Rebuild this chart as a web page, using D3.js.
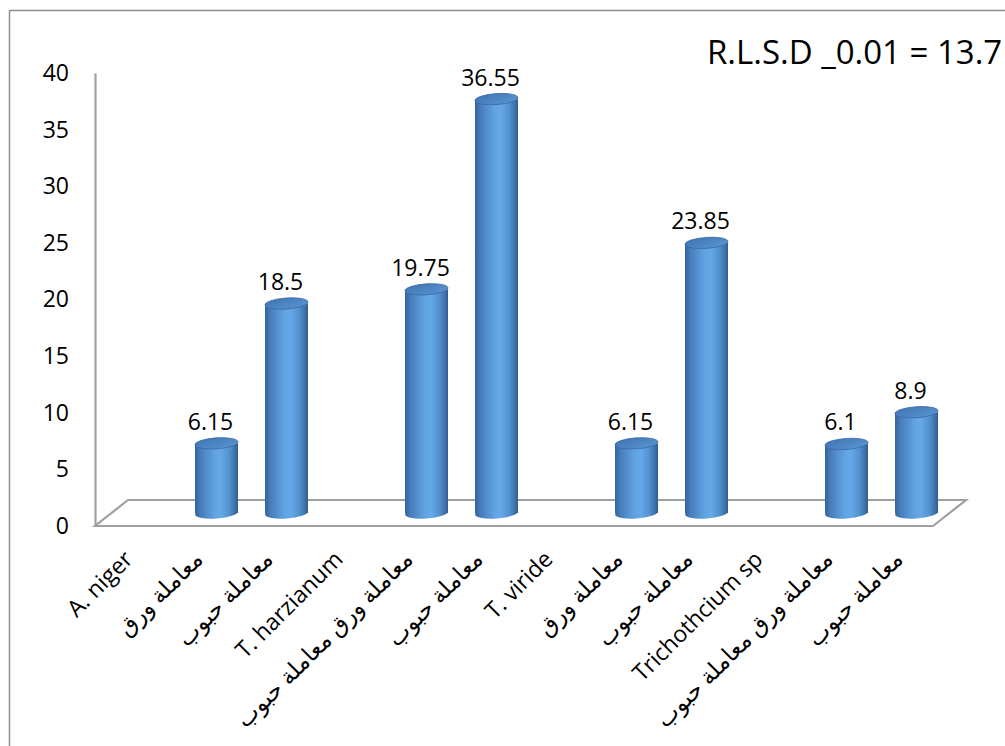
<!DOCTYPE html>
<html>
<head>
<meta charset="utf-8">
<script src="https://cdn.jsdelivr.net/npm/d3@7"></script>
<style>
  html, body { margin: 0; padding: 0; background: #ffffff; }
  svg { display: block; }
  text { font-family: "Open Sans", "DejaVu Sans", sans-serif; fill: #000; }
</style>
</head>
<body>
<svg id="chart" width="1005" height="746"></svg>
<script>
// Category labels along the x axis
const categories = [
  "A. niger",
  "معاملة ورق",
  "معاملة حبوب",
  "T. harzianum",
  "معاملة  ورق معاملة حبوب",
  "معاملة حبوب",
  "T. viride",
  "معاملة ورق",
  "معاملة حبوب",
  "Trichothcium sp",
  "معاملة  ورق معاملة حبوب",
  "معاملة حبوب"
];
// Column values (null = no column for the fungus heading)
const values = [null, 6.15, 18.5, null, 19.75, 36.55, null, 6.15, 23.85, null, 6.1, 8.9];
// Value axis ticks
const yTicks = [0, 5, 10, 15, 20, 25, 30, 35, 40];
const note = "R.L.S.D _0.01 = 13.7";

const svg = d3.select("#chart");

// outer chart frame
svg.append("rect")
  .attr("x", 9.5).attr("y", 10.5)
  .attr("width", 1010).attr("height", 760)
  .attr("fill", "none").attr("stroke", "#8e8e8e").attr("stroke-width", 1.5);

// front-plane geometry of the 3D plot
const axisX = 95;
const depthX = 33, depthY = 26;          // offset from front to back edge of the floor
const y = d3.scaleLinear().domain([0, 40]).range([526, 73]);
const x = d3.scaleBand().domain(d3.range(categories.length))
  .range([axisX + depthX / 2, axisX + depthX / 2 + 70 * categories.length]);

// floor parallelogram
const floorRight = 933;
const f0 = y(0);
svg.append("path")
  .attr("d", `M${axisX},${f0} L${floorRight},${f0} L${floorRight + depthX},${f0 - depthY} L${axisX + depthX},${f0 - depthY} Z`)
  .attr("fill", "none").attr("stroke", "#a0a0a0").attr("stroke-width", 2.2);

// value axis
const yAxis = d3.axisLeft(y).tickValues(yTicks).tickSize(0).tickPadding(26).tickFormat(d3.format("d"));
const gy = svg.append("g").attr("transform", `translate(${axisX},0)`).call(yAxis);
gy.select(".domain").attr("stroke", "#a0a0a0").attr("stroke-width", 2.2);
gy.selectAll("text")
  .style("font-family", "'Open Sans', 'DejaVu Sans', sans-serif")
  .style("font-size", "23px").attr("fill", "#000");

// gradients for the cylinders
const defs = svg.append("defs");
const bodyGrad = defs.append("linearGradient").attr("id", "cylBody")
  .attr("x1", "0").attr("x2", "1").attr("y1", "0").attr("y2", "0");
[["0%", "#35639c"], ["12%", "#467cba"], ["45%", "#61a2e2"], ["60%", "#66a8e8"],
 ["80%", "#5190cf"], ["93%", "#3e71aa"], ["100%", "#325c8f"]]
  .forEach(([o, c]) => bodyGrad.append("stop").attr("offset", o).attr("stop-color", c));
const capGrad = defs.append("linearGradient").attr("id", "cylTop")
  .attr("x1", "0").attr("x2", "1").attr("y1", "0").attr("y2", "1");
[["0%", "#3f73ad"], ["60%", "#4f88c7"], ["100%", "#5b97d6"]]
  .forEach(([o, c]) => capGrad.append("stop").attr("offset", o).attr("stop-color", c));

// columns sit at mid-depth of the floor
const midDY = depthY / 2;
const barW = 43, ry = 5.5, tilt = -4;
const rows = values.map((v, i) => ({ i, v })).filter(d => d.v !== null);

const bars = svg.append("g").selectAll("g").data(rows).join("g")
  .attr("transform", d => `translate(${x(d.i) + x.bandwidth() / 2},0)`);

bars.each(function (d) {
  const g = d3.select(this);
  const base = y(0) - midDY;
  const topY = y(d.v) - midDY;
  // bottom cap (lower half shows under the body)
  g.append("ellipse").attr("cx", 0).attr("cy", base).attr("rx", barW / 2).attr("ry", ry)
    .attr("transform", `rotate(${tilt},0,${base})`)
    .attr("fill", "url(#cylBody)");
  // body
  g.append("rect").attr("x", -barW / 2).attr("y", topY).attr("width", barW).attr("height", base - topY)
    .attr("fill", "url(#cylBody)");
  // top cap
  g.append("ellipse").attr("cx", 0).attr("cy", topY).attr("rx", barW / 2).attr("ry", ry)
    .attr("transform", `rotate(${tilt},0,${topY})`)
    .attr("fill", "url(#cylTop)").attr("stroke", "#3a6aa2").attr("stroke-width", 0.8);
  // value label
  g.append("text").attr("x", -6).attr("y", topY - ry - 8)
    .attr("text-anchor", "middle").style("font-size", "23px")
    .text(d.v);
});

// rotated category labels
svg.append("g").selectAll("text").data(categories).join("text")
  .attr("transform", (d, i) => `translate(${x(i) + x.bandwidth() / 2 - 18},${555}) rotate(-45)`)
  .attr("text-anchor", "end").attr("dy", "0.35em")
  .style("font-size", "23px")
  .text(d => d);

// significance note
svg.append("text").attr("x", 707).attr("y", 64)
  .style("font-size", "33px").text(note);
</script>
</body>
</html>
